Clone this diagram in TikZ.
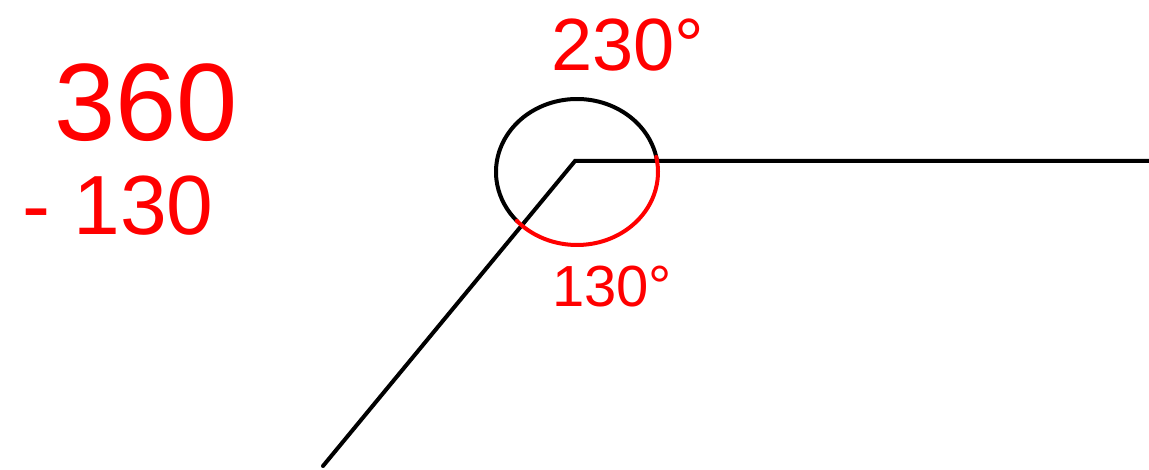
\documentclass[tikz,border=0pt]{standalone}
\usepackage{fontspec}
\setmainfont{Liberation Sans}
\begin{document}
\begin{tikzpicture}[x=1pt,y=1pt,
  ray/.style={line width=4pt,black,line cap=round},
  redarc/.style={line width=4pt,red,line cap=round},
  hand/.style={text=red,inner sep=0pt,text depth=0pt,text height=0.72em}]
\useasboundingbox (0,0) rectangle (1149,469);
\coordinate (V) at (575,308);
\coordinate (R) at (1149,308);
\coordinate (L) at (323,3);
\draw[ray] (R) -- (V) -- (L);
% black arc (reflex side)
\draw[ray] ([shift={(10:81 and 73)}]577,297) arc[start angle=10,end angle=222,x radius=81,y radius=73];
% red arc
\draw[redarc] ([shift={(222:81 and 73)}]577,297) arc[start angle=222,end angle=372,x radius=81,y radius=73];
\node[hand,font=\fontsize{74}{74}\selectfont,anchor=base] (t230) at (628,398) {230°};
\node[hand,font=\fontsize{110}{110}\selectfont,anchor=base] (t360) at (146,328) {360};
\node[hand,font=\fontsize{84}{84}\selectfont,anchor=base] (t130) at (118,234) {- 130};
\node[hand,font=\fontsize{58}{58}\selectfont,anchor=base] (t130b) at (612,162) {130°};
\end{tikzpicture}
\end{document}
